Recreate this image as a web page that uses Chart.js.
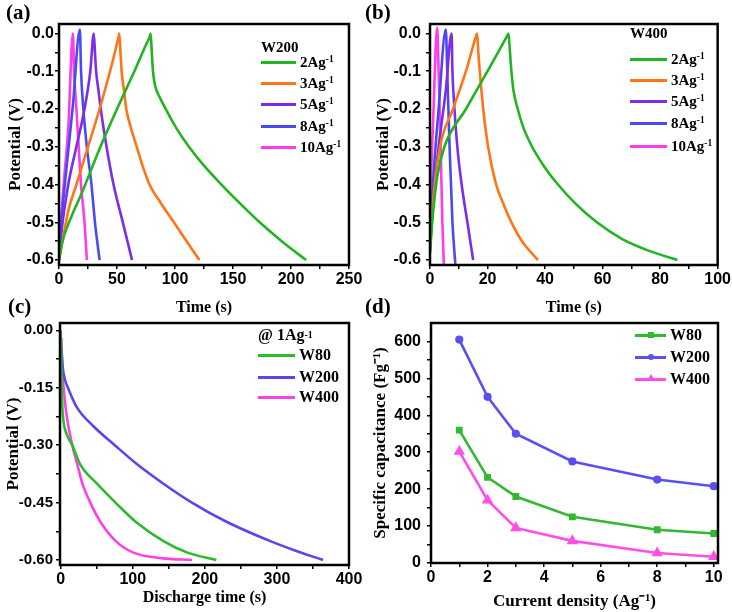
<!DOCTYPE html>
<html><head><meta charset="utf-8">
<script src="https://cdn.jsdelivr.net/npm/chart.js@4.4.1/dist/chart.umd.min.js"></script>
<style>
html,body{margin:0;padding:0;background:#fff;}
#wrap{position:relative;width:732px;height:612px;overflow:hidden;background:#fff;}
canvas{position:absolute;}
.lbl{position:absolute;font:bold 21px "Liberation Serif";line-height:21px;color:#000;}
.leg{position:absolute;font:bold 15px "Liberation Serif";color:#000;display:flex;align-items:center;height:20px;white-space:nowrap;}
.leg sup{font-size:0.62em;vertical-align:0.5em;line-height:0;}
.sw{display:inline-block;height:3px;margin-right:4px;position:relative;}
.mk{position:absolute;left:50%;top:50%;}
</style></head>
<body>
<div id="wrap">
  <canvas id="ca" width="365" height="320" style="left:0;top:0"></canvas>
  <canvas id="cb" width="367" height="320" style="left:365px;top:0"></canvas>
  <canvas id="cc" width="365" height="312" style="left:0;top:300px"></canvas>
  <canvas id="cd" width="367" height="312" style="left:365px;top:300px"></canvas>
  <div class="lbl" style="left:6px;top:2px">(a)</div>
  <div class="lbl" style="left:365px;top:2px">(b)</div>
  <div class="lbl" style="left:8px;top:296px">(c)</div>
  <div class="lbl" style="left:365px;top:296px">(d)</div>
</div>
<script>
// ============================================================
//  DATA
// ============================================================
const rates=['2','3','5','8','10'];
const rateColors=['#22b422','#ff7417','#7b2de8','#4a4af2','#ff3ce8'];

// (a) W200, time (s) / potential (V)
const aT2=[0,3,10,20,35,50,65,75,78.3,79,80,81,83,87,92,101,112,125,140,156,173,192,213];
const aV2=[-0.6,-0.55,-0.49,-0.42,-0.305,-0.2,-0.1,-0.03,-0.008,0,-0.05,-0.1,-0.14,-0.17,-0.2,-0.25,-0.3,-0.35,-0.4,-0.45,-0.5,-0.55,-0.6];
const aT3=[0,3,8,15,25,35,44,51.3,52,53,54,56,58,62,67,72,78,88,99,110,121];
const aV3=[-0.6,-0.55,-0.47,-0.4,-0.3,-0.2,-0.1,-0.01,0,-0.05,-0.1,-0.15,-0.2,-0.25,-0.3,-0.35,-0.4,-0.45,-0.5,-0.55,-0.6];
const aT5=[0,2,8,15,22,27,30,31,32,34,36,41,47,55,63];
const aV5=[-0.6,-0.53,-0.4,-0.3,-0.2,-0.1,0,-0.05,-0.1,-0.15,-0.2,-0.3,-0.4,-0.5,-0.6];
const aT8=[0,2,6,12,18,19,21,24,28,31,35];
const aV8=[-0.6,-0.5,-0.37,-0.19,0.01,-0.1,-0.2,-0.3,-0.4,-0.5,-0.6];
const aT10=[0,1,4,8,12,13,15,17,19,22,24];
const aV10=[-0.6,-0.53,-0.4,-0.25,0,-0.1,-0.2,-0.3,-0.4,-0.5,-0.6];

// (b) W400
const bT2=[0,1,2.5,5,12.5,20,26.6,27.3,27.8,28.3,29,30.5,32.5,35.5,39.5,44.5,50.5,58,67,76,86];
const bV2=[-0.58,-0.48,-0.38,-0.3,-0.2,-0.1,-0.01,0,-0.05,-0.1,-0.15,-0.2,-0.25,-0.3,-0.35,-0.4,-0.45,-0.5,-0.545,-0.575,-0.6];
const bT3=[0,1,3.5,8,12.5,15.9,16.4,16.8,17.3,18.5,20.2,23,26,28.3,32,37.5];
const bV3=[-0.58,-0.45,-0.3,-0.2,-0.1,-0.01,0,-0.05,-0.1,-0.2,-0.3,-0.4,-0.46,-0.5,-0.55,-0.6];
const bT5=[0,1,3,5.5,7.5,7.8,8.5,9.5,11,13,15];
const bV5=[-0.57,-0.45,-0.3,-0.15,0,-0.1,-0.2,-0.3,-0.4,-0.5,-0.6];
const bT8=[0,1,3,5.5,6,6.8,7.8,8.8];
const bV8=[-0.55,-0.4,-0.2,0.01,-0.1,-0.3,-0.5,-0.61];
const bT10=[0,1,2.5,3,3.7,4.3,4.8];
const bV10=[-0.45,-0.25,0.015,-0.1,-0.3,-0.5,-0.61];

// (c) discharge @ 1 A/g
const samples=['W80','W200','W400'];
const cColors=['#2bbb2b','#5b45ee','#ff40e6'];
const cT80=[0,0.5,1,2,4,8,16,27,50,76,104,142,175,216];
const cV80=[0,-0.05,-0.12,-0.19,-0.24,-0.27,-0.3,-0.35,-0.4,-0.45,-0.5,-0.55,-0.58,-0.6];
const cT200=[1,3,6,10,22,45,75,106,142,182,230,290,325,364];
const cV200=[-0.05,-0.1,-0.13,-0.15,-0.2,-0.25,-0.3,-0.35,-0.4,-0.45,-0.5,-0.55,-0.575,-0.6];
const cT400=[1,2,4,8,16,23,30,41,55,76,100,140,182];
const cV400=[-0.02,-0.1,-0.15,-0.22,-0.3,-0.35,-0.4,-0.45,-0.5,-0.55,-0.58,-0.595,-0.6];

// (d) specific capacitance vs current density
const dColors=['#33b833','#5a4ff0','#ff4fe6'];
const dCurrent=[1,2,3,5,8,10];
const dW80=[360,232,180,125,90,80];
const dW200=[605,450,350,275,226,208];
const dW400=[302,170,95,60,27,17];

// tick values (majors labelled, the rest are minor marks)
const aXTicks=[0,25,50,75,100,125,150,175,200,225,250];
const bXTicks=[0,10,20,30,40,50,60,70,80,90,100];
const abYTicks=[-0.6,-0.55,-0.5,-0.45,-0.4,-0.35,-0.3,-0.25,-0.2,-0.15,-0.1,-0.05,0];
const cXTicks=[0,50,100,150,200,250,300,350,400];
const cYTicks=[-0.6,-0.525,-0.45,-0.375,-0.3,-0.225,-0.15,-0.075,0];
const dXTicks=[0,1,2,3,4,5,6,7,8,9,10];
const dYTicks=[0,50,100,150,200,250,300,350,400,450,500,550,600];

// ============================================================
//  HELPERS
// ============================================================
const isMajor=(v,step)=>Math.abs(v/step-Math.round(v/step))<1e-6;

function axis(o){
  return {
    type:'linear',min:o.min,max:o.max,
    afterBuildTicks:s=>{s.ticks=o.ticks.map(v=>({value:v}));},
    afterFit:s=>{if(s.isHorizontal()) s.height=o.fit; else s.width=o.fit;},
    ticks:{autoSkip:false,maxRotation:0,color:'#000',
      font:{family:'"Liberation Sans"',size:o.fs||16,weight:'bold'},padding:o.pad||1,
      callback:v=>isMajor(v,o.step)?o.fmt(v):''},
    grid:{drawOnChartArea:false,color:'#000',lineWidth:1.5,tickLength:4},
    border:{display:false},
    title:{display:true,text:o.title,color:'#000',
      font:{family:'"Liberation Serif"',size:o.tsize||17,weight:'bold'},padding:o.tpad}
  };
}

const frame={id:'frame',afterDraw(c){
  const a=c.chartArea,x=c.ctx;
  x.save();x.strokeStyle='#000';x.lineWidth=2.5;
  x.strokeRect(a.left,a.top,a.right-a.left,a.bottom-a.top);
  x.restore();
}};

const pts=(t,v)=>t.map((x,i)=>({x,y:v[i]}));
function curve(t,v,color){
  return {data:pts(t,v),borderColor:color,backgroundColor:color,borderWidth:2.6,
    pointRadius:0,cubicInterpolationMode:'monotone',fill:false};
}

function makeChart(id,datasets,padding,xs,ys){
  return new Chart(document.getElementById(id),{
    type:'line',
    data:{datasets},
    options:{responsive:false,animation:false,devicePixelRatio:1,
      layout:{padding},
      plugins:{legend:{display:false},tooltip:{enabled:false}},
      scales:{x:xs,y:ys}},
    plugins:[frame]
  });
}

function addLegend(left,centers,lineW,heading,labels,colors,markers,fs){
  const wrap=document.getElementById('wrap');
  let k=0;
  if(heading){
    const h=document.createElement('div');h.className='leg';
    h.style.left=left+'px';h.style.top=(centers[0]-10)+'px';h.innerHTML=heading;
    if(fs) h.style.fontSize=fs+'px';
    wrap.appendChild(h);k=1;
  }
  labels.forEach((lab,i)=>{
    const d=document.createElement('div');d.className='leg';
    d.style.left=left+'px';d.style.top=(centers[k+i]-10)+'px';
    if(fs) d.style.fontSize=fs+'px';
    const sw=document.createElement('span');sw.className='sw';
    sw.style.width=lineW+'px';sw.style.background=colors[i];
    if(markers){
      const m=document.createElement('span');m.className='mk';
      const kind=markers[i];
      if(kind==='rect'){m.style.cssText+=`width:6px;height:6px;margin:-3px 0 0 -3px;background:${colors[i]}`;}
      else if(kind==='circle'){m.style.cssText+=`width:6px;height:6px;margin:-3px 0 0 -3px;border-radius:50%;background:${colors[i]}`;}
      else {m.style.cssText+=`width:0;height:0;margin:-5px 0 0 -4px;border-left:4px solid transparent;border-right:4px solid transparent;border-bottom:7px solid ${colors[i]}`;}
      sw.appendChild(m);
    }
    d.appendChild(sw);
    const s=document.createElement('span');s.innerHTML=lab;d.appendChild(s);
    wrap.appendChild(d);
  });
}

const fmt1=v=>v.toFixed(1), fmt2=v=>v.toFixed(2), fmt0=v=>String(v);

// ============================================================
//  (a) W200
// ============================================================
makeChart('ca',[
  curve(aT2,aV2,rateColors[0]),curve(aT3,aV3,rateColors[1]),curve(aT5,aV5,rateColors[2]),
  curve(aT8,aV8,rateColors[3]),curve(aT10,aV10,rateColors[4])],
  {left:0,top:24,right:16,bottom:3},
  axis({min:0,max:250,ticks:aXTicks,step:50,fmt:fmt0,fit:52,title:'Time (s)',tsize:16,tpad:{top:0,bottom:0}}),
  axis({min:-0.613,max:0.025,ticks:abYTicks,step:0.1,fmt:fmt1,fit:59,pad:1,title:'Potential (V)',tpad:{top:5,bottom:0}}));

// ============================================================
//  (b) W400
// ============================================================
makeChart('cb',[
  curve(bT2,bV2,rateColors[0]),curve(bT3,bV3,rateColors[1]),curve(bT5,bV5,rateColors[2]),
  curve(bT8,bV8,rateColors[3]),curve(bT10,bV10,rateColors[4])],
  {left:0,top:24,right:13,bottom:3},
  axis({min:0,max:100,ticks:bXTicks,step:20,fmt:fmt0,fit:52,title:'Time (s)',tsize:16,tpad:{top:0,bottom:0}}),
  axis({min:-0.613,max:0.025,ticks:abYTicks,step:0.1,fmt:fmt1,fit:65,pad:5,title:'Potential (V)',tpad:{top:8,bottom:0}}));

// ============================================================
//  (c) discharge @ 1 A/g
// ============================================================
makeChart('cc',[
  curve(cT80,cV80,cColors[0]),curve(cT200,cV200,cColors[1]),curve(cT400,cV400,cColors[2])],
  {left:0,top:23,right:16,bottom:5},
  axis({min:-1,max:400,ticks:cXTicks,step:100,fmt:fmt0,fit:42,title:'Discharge time (s)',tsize:16,tpad:{top:0,bottom:0}}),
  axis({min:-0.613,max:0.019,ticks:cYTicks,step:0.15,fmt:fmt2,fit:60,fs:15,pad:3,title:'Potential (V)',tpad:{top:3,bottom:0}}));

// ============================================================
//  (d) capacitance
// ============================================================
const dStyles=['rect','circle','triangle'];
const dSeries=[dW80,dW200,dW400];
makeChart('cd',dSeries.map((s,i)=>({
    data:pts(dCurrent,s),borderColor:dColors[i],backgroundColor:dColors[i],borderWidth:2.6,
    pointStyle:dStyles[i],pointRadius:[3,2.8,4][i],tension:0,fill:false})),
  {left:0,top:23,right:14,bottom:0},
  axis({min:0,max:10.15,ticks:dXTicks,step:2,fmt:fmt0,fit:49,title:'Current density (Ag\u207B\u00B9)',tsize:17,tpad:{top:0,bottom:0}}),
  axis({min:0,max:650,ticks:dYTicks,step:100,fmt:fmt0,fit:66,pad:6,title:'Specific capacitance (Fg\u207B\u00B9)',tpad:{top:5,bottom:0}}));

// ============================================================
//  LEGENDS
// ============================================================
const rateLabels=rates.map(r=>`${r}Ag<sup>-1</sup>`);
addLegend(261,[47,62,83,104,126,147],35,'W200',rateLabels,rateColors);
addLegend(630,[33,59,80,101,123,146],37,'W400',rateLabels,rateColors);
addLegend(258,[335,355,377,397],37,'@ 1Ag<sup>-1</sup>',samples,cColors,null,16);
addLegend(635,[335,357,379],31,null,samples,dColors,dStyles,16);
</script>
</body></html>
